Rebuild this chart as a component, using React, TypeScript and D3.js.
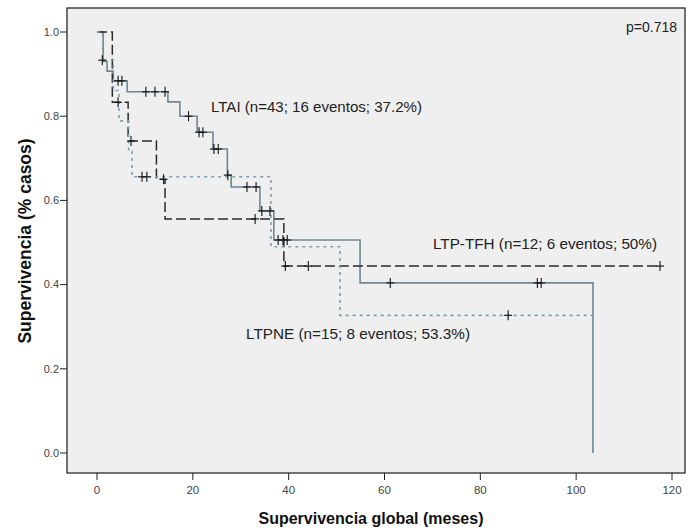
import React from "react";
import * as d3 from "d3";

// Kaplan–Meier steps: [months, survival] — the value holds from this time until the next step
const ltaiSteps: [number, number][] = [
  [0, 1], [1.3, 0.93], [2.1, 0.907], [3.4, 0.884], [6.3, 0.858], [14.8, 0.834],
  [17.3, 0.8], [20.9, 0.762], [24.2, 0.722], [27.2, 0.66], [28.0, 0.632],
  [34.0, 0.575], [36.9, 0.506], [54.9, 0.404], [103.5, 0],
];
const ltaiCensored: [number, number][] = [
  [4.4, 0.884], [5.2, 0.884], [10.2, 0.858], [12.1, 0.858], [14.2, 0.858],
  [19.1, 0.8], [21.3, 0.762], [22.1, 0.762], [24.4, 0.722], [25.3, 0.722],
  [27.3, 0.66], [31.3, 0.632], [33.2, 0.632], [34.4, 0.575], [36.1, 0.575],
  [37.8, 0.506], [38.8, 0.506], [39.7, 0.506], [61.2, 0.404], [91.9, 0.404], [92.7, 0.404],
];

const tfhSteps: [number, number][] = [
  [0, 1], [3.2, 0.833], [6.5, 0.741], [12.4, 0.65], [14.2, 0.556], [39.0, 0.444], [117.5, 0.444],
];
const tfhCensored: [number, number][] = [
  [4.4, 0.833], [7.1, 0.741], [13.9, 0.65], [33.0, 0.556], [39.3, 0.444], [44.1, 0.444], [117.5, 0.444],
];

const ltpneSteps: [number, number][] = [
  [0, 1], [1.2, 0.933], [3.4, 0.861], [4.6, 0.789], [6.6, 0.717], [7.3, 0.656],
  [36.3, 0.49], [50.7, 0.327], [103.5, 0],
];
const ltpneCensored: [number, number][] = [
  [1.1, 0.933], [9.4, 0.656], [10.4, 0.656], [85.8, 0.327],
];

const xTicks = [0, 20, 40, 60, 80, 100, 120];
const yTicks = [0, 0.2, 0.4, 0.6, 0.8, 1.0];

const labelLtai = "LTAI (n=43; 16 eventos; 37.2%)";
const labelTfh = "LTP-TFH (n=12; 6 eventos; 50%)";
const labelLtpne = "LTPNE (n=15; 8 eventos; 53.3%)";
const pValue = "p=0.718";
const xTitle = "Supervivencia global (meses)";
const yTitle = "Supervivencia (% casos)";

const W = 691;
const H = 529;
const frame = { left: 67, right: 685, top: 8, bottom: 473 };

export default function App() {
  const x = d3.scaleLinear().domain([0, 120]).range([97, 672]);
  const y = d3.scaleLinear().domain([0, 1]).range([453, 32]);

  const line = d3
    .line<[number, number]>()
    .x((d) => x(d[0]))
    .y((d) => y(d[1]))
    .curve(d3.curveStepAfter);

  const font = "Arial, 'Liberation Sans', Helvetica, sans-serif";

  const censorMarks = (pts: [number, number][], key: string) =>
    pts.map((p, i) => (
      <g key={key + i} stroke="#111" strokeWidth={1.1}>
        <line x1={x(p[0])} x2={x(p[0])} y1={y(p[1]) - 5} y2={y(p[1]) + 5} />
        <line x1={x(p[0]) - 4} x2={x(p[0]) + 4} y1={y(p[1])} y2={y(p[1])} />
      </g>
    ));

  return (
    <svg
      width={W}
      height={H}
      style={{ position: "absolute", left: 0, top: 0, display: "block", background: "#fff" }}
      fontFamily={font}
    >
      <rect
        x={frame.left}
        y={frame.top}
        width={frame.right - frame.left}
        height={frame.bottom - frame.top}
        fill="#efefef"
        stroke="#1a1a1a"
        strokeWidth={1.2}
      />

      {/* y axis ticks */}
      {yTicks.map((t) => (
        <g key={"y" + t}>
          <line x1={frame.left - 7} x2={frame.left} y1={y(t)} y2={y(t)} stroke="#222" />
          <text x={frame.left - 8} y={y(t)} dy="0.35em" textAnchor="end" fontSize={11} fill="#444">
            {t.toFixed(1)}
          </text>
        </g>
      ))}

      {/* x axis ticks */}
      {xTicks.map((t) => (
        <g key={"x" + t}>
          <line x1={x(t)} x2={x(t)} y1={frame.bottom} y2={frame.bottom + 7} stroke="#222" />
          <text x={x(t)} y={frame.bottom + 21} textAnchor="middle" fontSize={11.5} fill="#444">
            {t}
          </text>
        </g>
      ))}

      {/* survival curves */}
      <path d={line(ltaiSteps) ?? ""} fill="none" stroke="#6e8896" strokeWidth={1.6} />
      <path
        d={line(tfhSteps) ?? ""}
        fill="none"
        stroke="#2a2a2a"
        strokeWidth={1.5}
        strokeDasharray="10,4"
      />
      <path
        d={line(ltpneSteps) ?? ""}
        fill="none"
        stroke="#7d9db0"
        strokeWidth={1.6}
        strokeDasharray="3,4"
      />

      {censorMarks(ltaiCensored, "a")}
      {censorMarks(tfhCensored, "t")}
      {censorMarks(ltpneCensored, "n")}

      {/* curve labels */}
      <g fontSize={15} fill="#222">
        <text x={211} y={112} textLength={211} lengthAdjust="spacingAndGlyphs">{labelLtai}</text>
        <text x={433} y={249} textLength={224} lengthAdjust="spacingAndGlyphs">{labelTfh}</text>
        <text x={246} y={339} textLength={224} lengthAdjust="spacingAndGlyphs">{labelLtpne}</text>
        <text x={626} y={32} fontSize={14}>{pValue}</text>
      </g>

      {/* axis titles */}
      <text x={371} y={524} textAnchor="middle" fontSize={16} fontWeight="bold" fill="#111">
        {xTitle}
      </text>
      <text
        transform="translate(31, 241) rotate(-90)"
        textAnchor="middle"
        fontSize={17.5}
        fontWeight="bold"
        fill="#111"
      >
        {yTitle}
      </text>
    </svg>
  );
}
